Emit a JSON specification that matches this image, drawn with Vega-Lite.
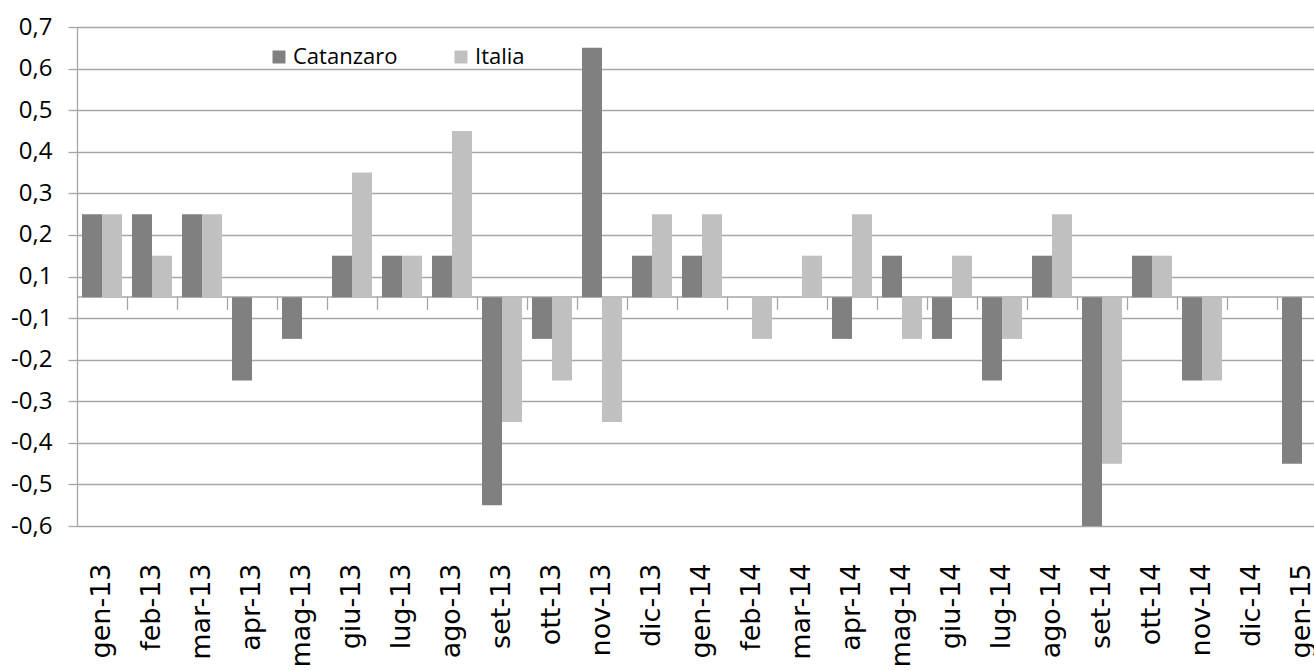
{
  "$schema": "https://vega.github.io/schema/vega-lite/v6.json",
  "autosize": {"type": "none"},
  "padding": {"left": 77, "top": 27, "right": 0, "bottom": 145},
  "width": 1250,
  "height": 499,
  "background": "white",
  "config": {
    "view": {"stroke": null},
    "axis": {"gridColor": "#a6a6a6", "gridWidth": 1.3, "domainColor": "#a6a6a6", "domainWidth": 1.3, "tickColor": "#a6a6a6", "tickWidth": 1.3}
  },
  "data": {"values": [
    {"month": "gen-13", "series": "Catanzaro", "value": 0.2}, {"month": "gen-13", "series": "Italia", "value": 0.2},
    {"month": "feb-13", "series": "Catanzaro", "value": 0.2}, {"month": "feb-13", "series": "Italia", "value": 0.1},
    {"month": "mar-13", "series": "Catanzaro", "value": 0.2}, {"month": "mar-13", "series": "Italia", "value": 0.2},
    {"month": "apr-13", "series": "Catanzaro", "value": -0.2}, {"month": "apr-13", "series": "Italia", "value": 0},
    {"month": "mag-13", "series": "Catanzaro", "value": -0.1}, {"month": "mag-13", "series": "Italia", "value": 0},
    {"month": "giu-13", "series": "Catanzaro", "value": 0.1}, {"month": "giu-13", "series": "Italia", "value": 0.3},
    {"month": "lug-13", "series": "Catanzaro", "value": 0.1}, {"month": "lug-13", "series": "Italia", "value": 0.1},
    {"month": "ago-13", "series": "Catanzaro", "value": 0.1}, {"month": "ago-13", "series": "Italia", "value": 0.4},
    {"month": "set-13", "series": "Catanzaro", "value": -0.5}, {"month": "set-13", "series": "Italia", "value": -0.3},
    {"month": "ott-13", "series": "Catanzaro", "value": -0.1}, {"month": "ott-13", "series": "Italia", "value": -0.2},
    {"month": "nov-13", "series": "Catanzaro", "value": 0.6}, {"month": "nov-13", "series": "Italia", "value": -0.3},
    {"month": "dic-13", "series": "Catanzaro", "value": 0.1}, {"month": "dic-13", "series": "Italia", "value": 0.2},
    {"month": "gen-14", "series": "Catanzaro", "value": 0.1}, {"month": "gen-14", "series": "Italia", "value": 0.2},
    {"month": "feb-14", "series": "Catanzaro", "value": 0}, {"month": "feb-14", "series": "Italia", "value": -0.1},
    {"month": "mar-14", "series": "Catanzaro", "value": 0}, {"month": "mar-14", "series": "Italia", "value": 0.1},
    {"month": "apr-14", "series": "Catanzaro", "value": -0.1}, {"month": "apr-14", "series": "Italia", "value": 0.2},
    {"month": "mag-14", "series": "Catanzaro", "value": 0.1}, {"month": "mag-14", "series": "Italia", "value": -0.1},
    {"month": "giu-14", "series": "Catanzaro", "value": -0.1}, {"month": "giu-14", "series": "Italia", "value": 0.1},
    {"month": "lug-14", "series": "Catanzaro", "value": -0.2}, {"month": "lug-14", "series": "Italia", "value": -0.1},
    {"month": "ago-14", "series": "Catanzaro", "value": 0.1}, {"month": "ago-14", "series": "Italia", "value": 0.2},
    {"month": "set-14", "series": "Catanzaro", "value": -0.6}, {"month": "set-14", "series": "Italia", "value": -0.4},
    {"month": "ott-14", "series": "Catanzaro", "value": 0.1}, {"month": "ott-14", "series": "Italia", "value": 0.1},
    {"month": "nov-14", "series": "Catanzaro", "value": -0.2}, {"month": "nov-14", "series": "Italia", "value": -0.2},
    {"month": "dic-14", "series": "Catanzaro", "value": 0}, {"month": "dic-14", "series": "Italia", "value": 0},
    {"month": "gen-15", "series": "Catanzaro", "value": -0.4}, {"month": "gen-15", "series": "Italia", "value": 0}
  ]},
  "resolve": {"axis": {"x": "independent"}},
  "layer": [
    {
      "mark": {"type": "bar", "clip": true},
      "encoding": {
        "x": {
          "field": "month", "type": "nominal", "sort": null,
          "scale": {"paddingInner": 0.2, "paddingOuter": 0.1},
          "axis": {
            "orient": "bottom", "title": null, "domain": false, "ticks": false, "grid": false,
            "labelAngle": -90, "labelAlign": "right", "labelBaseline": "middle",
            "labelPadding": 37, "labelFont": "DejaVu Sans", "labelFontSize": 27,
            "labelColor": "#000000", "labelOverlap": false, "labelBound": false
          }
        },
        "xOffset": {"field": "series", "type": "nominal", "sort": ["Catanzaro", "Italia"]},
        "y": {
          "field": "value", "type": "quantitative",
          "scale": {"domain": [-0.55, 0.65], "nice": false, "zero": false},
          "axis": {
            "title": null,
            "values": [-0.55, -0.45, -0.35, -0.25, -0.15, -0.05, 0.05, 0.15, 0.25, 0.35, 0.45, 0.55, 0.65],
            "labelExpr": "(datum.value < 0 ? '-' : '') + '0,' + round(abs(datum.value) * 10 + 0.01)",
            "grid": true, "domain": true, "ticks": true, "tickSize": 9,
            "labelPadding": 16, "labelFont": "Open Sans", "labelFontSize": 24, "labelColor": "#000000"
          }
        },
        "color": {
          "field": "series", "type": "nominal",
          "scale": {"domain": ["Catanzaro", "Italia"], "range": ["#808080", "#c0c0c0"]},
          "legend": {
            "title": null, "orient": "none", "legendX": 191, "legendY": 19, "direction": "horizontal",
            "symbolType": "square", "symbolSize": 169, "symbolStrokeWidth": 0, "symbolOpacity": 1,
            "labelFont": "Open Sans", "labelFontSize": 22, "labelColor": "#000000",
            "labelOffset": 3, "columnPadding": 52, "padding": 0
          }
        }
      }
    },
    {
      "mark": {"type": "point", "opacity": 0},
      "encoding": {
        "x": {
          "field": "month", "type": "nominal", "sort": null,
          "axis": {
            "orient": "bottom", "offset": -229.5, "title": null, "labels": false, "grid": false,
            "domain": true, "ticks": true, "bandPosition": 1, "tickOffset": 5, "tickExtra": false, "tickSize": 13
          }
        },
        "y": {"datum": 0, "type": "quantitative"}
      }
    }
  ]
}
